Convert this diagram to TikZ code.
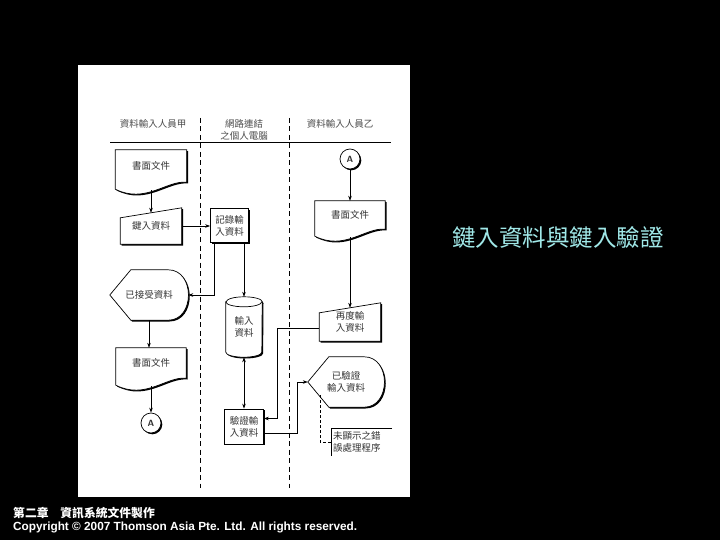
\documentclass[tikz,border=0pt]{standalone}
\usepackage{fontspec}
\setmainfont{Liberation Sans}
\newfontfamily\cjk{Noto Sans CJK TC}
\usetikzlibrary{arrows.meta,shadows,backgrounds}
\definecolor{titlecyan}{RGB}{160,232,232}
\tikzset{
  lbl/.style={font=\cjk\fontsize{9.5}{12}\selectfont, text=black!80, align=center, inner sep=0pt},
  hdr/.style={lbl, text=black!70},
  outline/.style={draw=black, line width=0.7pt, fill=white,
    drop shadow={shadow xshift=1.3pt, shadow yshift=-1.3pt, opacity=1, fill=black}},
  procbox/.style={lbl, outline, minimum width=38pt, minimum height=34pt},
  connector/.style={lbl, circle, outline, minimum size=20pt, font=\sffamily\bfseries\fontsize{9}{10}\selectfont},
  flow/.style={line width=0.6pt, -{Stealth[length=5pt,width=3.5pt]}},
  bothflow/.style={line width=0.6pt, {Stealth[length=5pt,width=3.5pt]}-{Stealth[length=5pt,width=3.5pt]}},
  lane/.style={line width=0.6pt, dash pattern=on 5pt off 3.5pt},
}
% outlines drawn around named nodes
\newcommand{\docshape}[1]{\draw[outline] (#1.north west) -- (#1.north east) -- (#1.south east)
  .. controls ([xshift=-20pt,yshift=2pt]#1.south east) and ([xshift=30pt,yshift=-22pt]#1.south west)
  .. ([yshift=-7pt]#1.south west) -- cycle;}
\newcommand{\maninshape}[1]{\draw[outline] ([yshift=-10pt]#1.north west) -- (#1.north east)
  -- (#1.south east) -- (#1.south west) -- cycle;}
\newcommand{\dispshape}[1]{\draw[outline] (#1.west) -- ([xshift=21pt]#1.north west)
  -- ([xshift=-20pt]#1.north east) .. controls ([xshift=7pt]#1.north east) and ([xshift=7pt]#1.south east)
  .. ([xshift=-20pt]#1.south east) -- ([xshift=21pt]#1.south west) -- cycle;}
\newcommand{\dbshape}[1]{\draw[outline] ([yshift=-5pt]#1.north west) -- ([yshift=5pt]#1.south west)
  arc[start angle=180, end angle=360, x radius=18pt, y radius=5pt] -- ([yshift=-5pt]#1.north east)
  arc[start angle=0, end angle=180, x radius=18pt, y radius=5pt] -- cycle;
  \draw[line width=0.7pt] ([yshift=-5pt]#1.north west) arc[start angle=180, end angle=360, x radius=18pt, y radius=5pt];}

\begin{document}
\begin{tikzpicture}[x=1pt, y=-1pt]
  \begin{scope}[on background layer]
    \fill[black] (0,0) rectangle (720,540);
    \fill[white] (78,65) rectangle (410,497);
  \end{scope}
  \useasboundingbox (0,0) rectangle (720,540);

  % lanes
  \node[hdr] (laneA) at (153,124) {資料輸入人員甲};
  \node[hdr] (laneB) at (244,130) {網路連結\\之個人電腦};
  \node[hdr] (laneC) at (340,124) {資料輸入人員乙};
  \draw[line width=0.6pt] (110,142) -- (391,142);
  \draw[lane] (200,118) -- (200,488);
  \draw[lane] (289,118) -- (289,488);

  % left lane
  \node[lbl, minimum width=71pt, minimum height=32pt] (doc1) at (151,166) {書面文件};
  \node[lbl, minimum width=61pt, minimum height=36pt] (kin) at (151,226) {鍵入資料};
  \node[lbl, minimum width=78pt, minimum height=50pt] (acc) at (149,295) {已接受資料};
  \node[lbl, minimum width=70pt, minimum height=30pt] (doc2) at (151,363) {書面文件};
  \node[connector] (conA1) at (151,423) {A};

  % middle lane
  \node[procbox] (rec) at (229.5,225.5) {記錄輸\\入資料};
  \node[lbl, minimum width=36pt, minimum height=60pt] (db) at (244,327) {輸入\\資料};
  \node[procbox, minimum width=39pt, minimum height=35pt] (ver) at (244,426.5) {驗證輸\\入資料};

  % right lane
  \node[connector] (conA2) at (350,159) {A};
  \node[lbl, minimum width=70pt, minimum height=28pt] (doc3) at (350,215) {書面文件};
  \node[lbl, minimum width=61pt, minimum height=38pt] (redo) at (350,322) {再度輸\\入資料};
  \node[lbl, minimum width=76pt, minimum height=50pt] (done) at (346,382) {已驗證\\輸入資料};
  \node[lbl, align=left, text width=57pt, inner xsep=2pt, minimum height=28pt] (note) at (361.5,442) {未顯示之錯\\誤處理程序};

  \begin{scope}[on background layer]
    \docshape{doc1} \docshape{doc2} \docshape{doc3}
    \maninshape{kin} \maninshape{redo}
    \dispshape{acc} \dispshape{done}
    \dbshape{db}
  \end{scope}
  \draw[line width=0.6pt] (note.north east) -- (note.north west) -- (note.south west);

  % connectors
  \draw[flow] ([yshift=-8pt]doc1.south) -- ([yshift=-5pt]kin.north);
  \draw[flow] (kin.east) -- (kin.east -| rec.west);
  \draw[flow] ([xshift=4pt]rec.south west) |- (acc.east);
  \draw[flow] (rec.south -| db.north) -- (db.north);
  \draw[flow] (acc.south) -- (acc.south |- doc2.north);
  \draw[flow] ([yshift=-8pt]doc2.south) -- (conA1.north);
  \draw[flow] (conA2.south) -- (doc3.north);
  \draw[flow] ([yshift=-8pt]doc3.south) -- ([yshift=-5pt]redo.north);
  \draw[flow] ([yshift=-6pt]redo.west) -- ++(-42,0) |- ([yshift=8pt]ver.east);
  \draw[bothflow] (db.south) -- (db.south |- ver.north);
  \draw[flow] ([yshift=-7pt]ver.east) -- ++(33,0) |- (done.west);
  \draw[line width=0.6pt, dash pattern=on 3pt off 2pt] ([xshift=12pt,yshift=12pt]done.south west) |- (note.west);

  % title and footer
  \node[font=\cjk\fontsize{23.5}{26}\selectfont, text=titlecyan] (title) at (558,237) {鍵入資料與鍵入驗證};
  \node[anchor=west, inner sep=0pt, text=white, font=\cjk\bfseries\fontsize{11.8}{13}\selectfont] (chap) at (13,513) {第二章　資訊系統文件製作};
  \node[anchor=west, inner sep=0pt, text=white, font=\bfseries\fontsize{11.8}{13}\selectfont] (copy) at (13,527) {Copyright © 2007 Thomson Asia Pte. Ltd. All rights reserved.};
\end{tikzpicture}
\end{document}
